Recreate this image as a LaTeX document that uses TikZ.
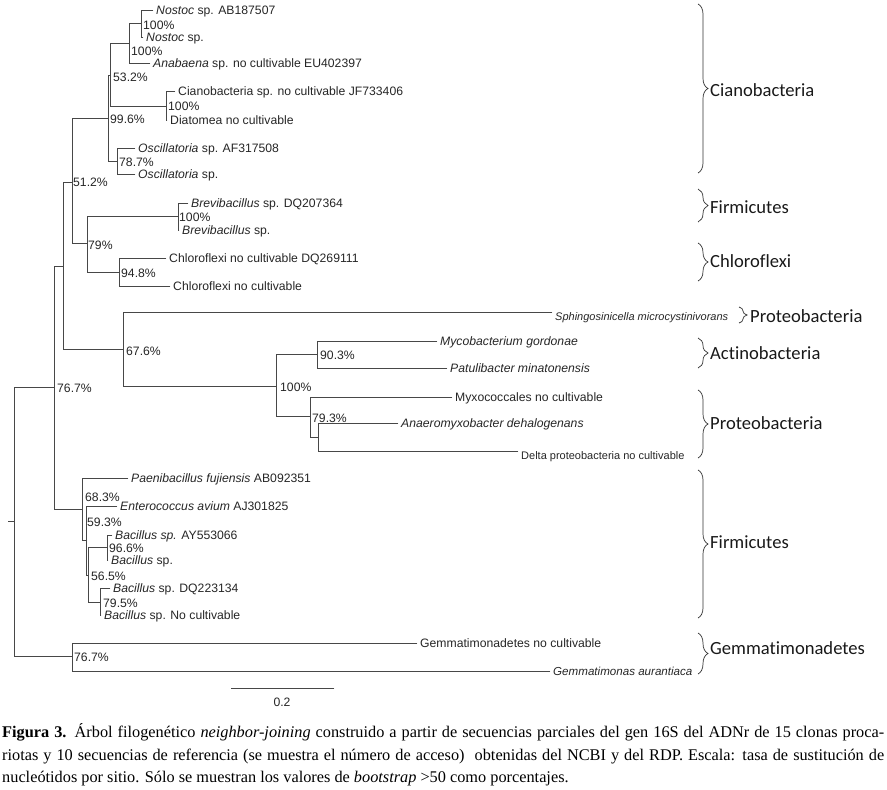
\documentclass[tikz,border=0pt]{standalone}
\usepackage{fontspec}
\setmainfont{Liberation Serif}
\newfontfamily\treefont{Liberation Sans}
\newfontfamily\grpfont[Ligatures=CommonOff]{Carlito}
\usetikzlibrary{decorations.pathreplacing}
\newcommand\tsz{\treefont\fontsize{12.2}{14}\selectfont}
\newcommand\ssz{\treefont\fontsize{11}{13}\selectfont}
\begin{document}
\begin{tikzpicture}[x=1pt,y=-1pt,
  br/.style={draw=black!72, line width=0.9pt, line cap=rect},
  leaf/.style={anchor=base west, inner sep=0pt, xshift=3pt, yshift=-4.3pt, font=\tsz, text=black!85},
  sleaf/.style={leaf, font=\ssz, yshift=-3.9pt},
  boot/.style={anchor=base west, inner sep=0pt, yshift=-4.3pt, font=\tsz, text=black!85},
  grp/.style={anchor=base west, inner sep=0pt, yshift=-6pt, font=\grpfont\fontsize{18.6}{20}\selectfont, text=black!90},
  brc/.style={draw=black!80, line width=0.7pt, decorate, decoration={brace, amplitude=10pt}},
  capline/.style={anchor=base west, inner sep=0pt, font=\fontsize{16.3}{20}\selectfont}]
\useasboundingbox (0,0) rectangle (887,790);
% internal nodes
\coordinate (rt) at (8,521);
\coordinate (r) at (14,521);
\coordinate (n767a) at (54,387);
\coordinate (gemm) at (72,656);
\coordinate (n1) at (63,266);
\coordinate (f1) at (82,509);
\coordinate (n512) at (72,182);
\coordinate (n676) at (123,349);
\coordinate (n996) at (108,118);
\coordinate (n79) at (87,243);
\coordinate (n532) at (110,75);
\coordinate (n787) at (117,161);
\coordinate (nB) at (129,43);
\coordinate (nD) at (166,106);
\coordinate (nA) at (141,23);
\coordinate (nBrev) at (178,216);
\coordinate (n948) at (119,272);
\coordinate (n100) at (276,386);
\coordinate (n903) at (317,354);
\coordinate (n793) at (310,416);
\coordinate (nIn) at (318,437);
\coordinate (f2) at (86,540);
\coordinate (f3) at (88,575);
\coordinate (n966) at (107,547);
\coordinate (n795) at (100,602);
% tips
\coordinate (tNos1) at (153,10);
\coordinate (tNos2) at (143,37);
\coordinate (tAnab) at (150,63);
\coordinate (tCian) at (175,91);
\coordinate (tDiat) at (167,120);
\coordinate (tOsc1) at (135,148);
\coordinate (tOsc2) at (135,174);
\coordinate (tBrev1) at (188,203);
\coordinate (tBrev2) at (179,230);
\coordinate (tChl1) at (166,258);
\coordinate (tChl2) at (170,286);
\coordinate (tSph) at (552,312);
\coordinate (tMyc) at (437,341);
\coordinate (tPat) at (447,368);
\coordinate (tMyx) at (452,397);
\coordinate (tAna) at (398,423);
\coordinate (tDel) at (518,451);
\coordinate (tPae) at (128,478);
\coordinate (tEnt) at (117,506);
\coordinate (tBac1) at (112,535);
\coordinate (tBac2) at (108,560);
\coordinate (tBac3) at (110,588);
\coordinate (tBac4) at (101,615);
\coordinate (tGem1) at (417,643);
\coordinate (tGem2) at (550,671);
% branches
\draw[br] (rt) -- (r);
\foreach \a/\b in {r/n767a, r/gemm, n767a/n1, n767a/f1, n1/n512, n1/n676,
  n512/n996, n512/n79, n996/n532, n996/n787, n532/nB, n532/nD, nB/nA, nB/tAnab,
  nA/tNos1, nA/tNos2, nD/tCian, nD/tDiat, n787/tOsc1, n787/tOsc2,
  n79/nBrev, n79/n948, nBrev/tBrev1, nBrev/tBrev2, n948/tChl1, n948/tChl2,
  n676/tSph, n676/n100, n100/n903, n100/n793, n903/tMyc, n903/tPat,
  n793/tMyx, n793/nIn, nIn/tAna, nIn/tDel, f1/tPae, f1/f2, f2/tEnt, f2/f3,
  f3/n966, f3/n795, n966/tBac1, n966/tBac2, n795/tBac3, n795/tBac4,
  gemm/tGem1, gemm/tGem2}
  \draw[br] (\a) |- (\b);
% leaf labels
\node[leaf] (LNos1) at (tNos1) {\textit{Nostoc} sp. AB187507};
\node[leaf] (LNos2) at (tNos2) {\textit{Nostoc} sp.};
\node[leaf] (LAnab) at (tAnab) {\textit{Anabaena} sp. no cultivable EU402397};
\node[leaf] (LCian) at (tCian) {Cianobacteria sp. no cultivable JF733406};
\node[leaf] (LDiat) at (tDiat) {Diatomea no cultivable};
\node[leaf] (LOsc1) at (tOsc1) {\textit{Oscillatoria} sp. AF317508};
\node[leaf] (LOsc2) at (tOsc2) {\textit{Oscillatoria} sp.};
\node[leaf] (LBrev1) at (tBrev1) {\textit{Brevibacillus} sp. DQ207364};
\node[leaf] (LBrev2) at (tBrev2) {\textit{Brevibacillus} sp.};
\node[leaf] (LChl1) at (tChl1) {Chloroflexi no cultivable DQ269111};
\node[leaf] (LChl2) at (tChl2) {Chloroflexi no cultivable};
\node[sleaf] (LSph) at (tSph) {\textit{Sphingosinicella microcystinivorans}};
\node[leaf] (LMyc) at (tMyc) {\textit{Mycobacterium gordonae}};
\node[leaf] (LPat) at (tPat) {\textit{Patulibacter minatonensis}};
\node[leaf] (LMyx) at (tMyx) {Myxococcales no cultivable};
\node[leaf] (LAna) at (tAna) {\textit{Anaeromyxobacter dehalogenans}};
\node[sleaf] (LDel) at (tDel) {Delta proteobacteria no cultivable};
\node[leaf] (LPae) at (tPae) {\textit{Paenibacillus fujiensis} AB092351};
\node[leaf] (LEnt) at (tEnt) {\textit{Enterococcus avium} AJ301825};
\node[leaf] (LBac1) at (tBac1) {\textit{Bacillus sp.} AY553066};
\node[leaf] (LBac2) at (tBac2) {\textit{Bacillus} sp.};
\node[leaf] (LBac3) at (tBac3) {\textit{Bacillus} sp. DQ223134};
\node[leaf] (LBac4) at (tBac4) {\textit{Bacillus} sp. No cultivable};
\node[leaf] (LGem1) at (tGem1) {Gemmatimonadetes no cultivable};
\node[leaf, font=\treefont\fontsize{11.6}{13}\selectfont] (LGem2) at (tGem2) {\textit{Gemmatimonas aurantiaca}};
% bootstrap values
\node[boot] (bA) at (143,25) {100\%};
\node[boot] (bB) at (131,51) {100\%};
\node[boot] (b532) at (113,77) {53.2\%};
\node[boot] (bD) at (168,106) {100\%};
\node[boot] (b996) at (110,119) {99.6\%};
\node[boot] (b787) at (119,162) {78.7\%};
\node[boot] (b512) at (73,182) {51.2\%};
\node[boot] (bBrev) at (179,217) {100\%};
\node[boot] (b79) at (88,245) {79\%};
\node[boot] (b948) at (121,273) {94.8\%};
\node[boot] (b676) at (126,351) {67.6\%};
\node[boot] (b903) at (320,355) {90.3\%};
\node[boot] (b100) at (280,387) {100\%};
\node[boot] (b793) at (312,418) {79.3\%};
\node[boot] (b767a) at (57,388) {76.7\%};
\node[boot] (b683) at (85,497) {68.3\%};
\node[boot] (b593) at (87,522) {59.3\%};
\node[boot] (b966) at (109,548) {96.6\%};
\node[boot] (b565) at (91,576) {56.5\%};
\node[boot] (b795) at (103,603) {79.5\%};
\node[boot] (b767b) at (74,657) {76.7\%};
% scale bar
\coordinate (sb1) at (231,688);
\coordinate (sb2) at (334,688);
\draw[br] (sb1) -- (sb2);
\node[font=\tsz, text=black!85, inner sep=0pt] (sbl) at (282,702) {0.2};
% braces and group labels
\coordinate (g1a) at (698,4);   \coordinate (g1b) at (698,173);
\coordinate (g2a) at (698,189); \coordinate (g2b) at (698,222);
\coordinate (g3a) at (698,243); \coordinate (g3b) at (698,281);
\coordinate (g4a) at (739,307); \coordinate (g4b) at (739,323);
\coordinate (g5a) at (698,338); \coordinate (g5b) at (698,368);
\coordinate (g6a) at (698,390); \coordinate (g6b) at (698,458);
\coordinate (g7a) at (698,470); \coordinate (g7b) at (698,618);
\coordinate (g8a) at (698,633); \coordinate (g8b) at (698,674);
\draw[brc] (g1a) -- (g1b);
\draw[brc] (g2a) -- (g2b);
\draw[brc] (g3a) -- (g3b);
\draw[brc, decoration={brace, amplitude=8pt}] (g4a) -- (g4b);
\draw[brc] (g5a) -- (g5b);
\draw[brc] (g6a) -- (g6b);
\draw[brc] (g7a) -- (g7b);
\draw[brc] (g8a) -- (g8b);
\node[grp] (G1) at (710,90) {Cianobacteria};
\node[grp] (G2) at (710,207) {Firmicutes};
\node[grp] (G3) at (710,261) {Chloroflexi};
\node[grp] (G4) at (750,316) {Proteobacteria};
\node[grp] (G5) at (710,353) {Actinobacteria};
\node[grp] (G6) at (710,423) {Proteobacteria};
\node[grp] (G7) at (710,542) {Firmicutes};
\node[grp] (G8) at (710,648) {Gemmatimonadetes};
% caption
\node[capline] (cap1) at (2,737) {\makebox[882pt][s]{\textbf{Figura 3.} Árbol filogenético \textit{neighbor-joining} construido a partir de secuencias parciales del gen 16S del ADNr de 15 clonas proca-}};
\node[capline] (cap2) at (2,760) {\makebox[882pt][s]{riotas y 10 secuencias de referencia (se muestra el número de acceso)~ obtenidas del NCBI y del RDP. Escala: tasa de sustitución de}};
\node[capline] (cap3) at (2,782) {nucleótidos por sitio. Sólo se muestran los valores de \textit{bootstrap} >50 como porcentajes.};
\end{tikzpicture}
\end{document}
